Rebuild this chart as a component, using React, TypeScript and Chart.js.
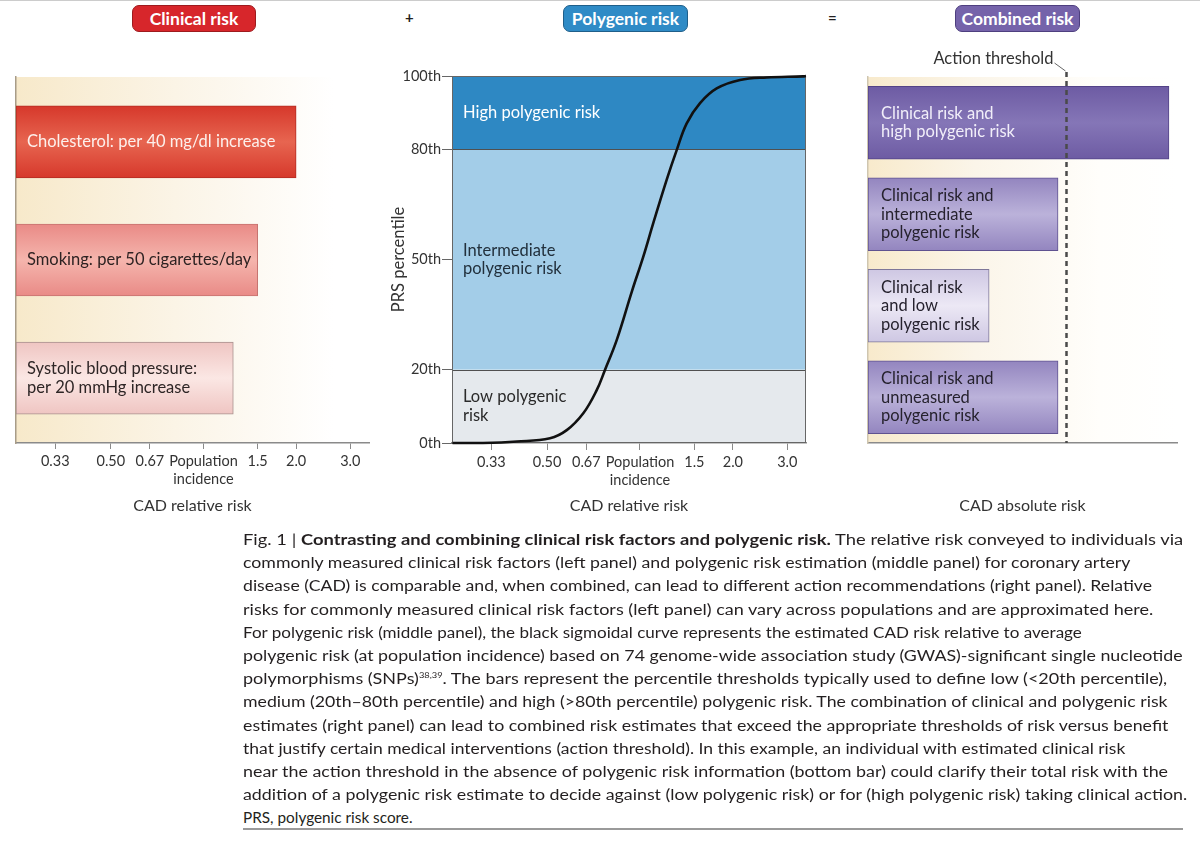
import React, { useEffect, useLayoutEffect, useRef } from 'react';
import { Chart, registerables } from 'chart.js';

Chart.register(...registerables);

const FONT = 'Lato, "Open Sans", "DejaVu Sans", sans-serif';

// ---------- shared relative-risk axis ----------
const RR_MIN = 0.246;
const RR_MAX = 3.45;
const RR_TICKS = [0.33, 0.5, 0.67, 1, 1.5, 2, 3];
const RR_TICK_LABELS: (string | string[])[] = ['0.33', '0.50', '0.67', ['Population', 'incidence'], '1.5', '2.0', '3.0'];

// ---------- left panel: clinical risk ----------
const CLINICAL_FACTORS = ['Cholesterol', 'Smoking', 'Systolic blood pressure'];
const CLINICAL_RR = [2.0, 1.5, 1.25];
const CLINICAL_LABELS = [
  ['Cholesterol: per 40 mg/dl increase'],
  ['Smoking: per 50 cigarettes/day'],
  ['Systolic blood pressure:', 'per 20 mmHg increase'],
];

// ---------- middle panel: polygenic risk ----------
const PRS_CURVE_RR = [0.247, 0.31, 0.399, 0.511, 0.579, 0.655, 0.724, 0.77, 0.841, 0.942, 1.025, 1.104, 1.22, 1.315, 1.417, 1.565, 1.772, 2.109, 2.573, 3.374, 3.45];
const PRS_CURVE_PCT = [0, 0, 0.4, 1.3, 3.5, 8.1, 14.4, 19.9, 28.1, 41.4, 50.8, 59.9, 71.7, 79.8, 87.1, 92.6, 96.6, 98.9, 99.6, 99.9, 100];
const PRS_BAND_EDGES = [0, 20, 80, 100];
const PRS_BAND_NAMES = [['Low polygenic', 'risk'], ['Intermediate', 'polygenic risk'], ['High polygenic risk']];
const PRS_TICKS = [0, 20, 50, 80, 100];
const PRS_TICK_LABELS = ['0th', '20th', '50th', '80th', '100th'];

// ---------- right panel: combined risk ----------
const COMBINED_CATS = ['High PRS', 'Intermediate PRS', 'Low PRS', 'Unmeasured PRS'];
const COMBINED_RISK = [9.74, 6.15, 3.92, 6.15];
const COMBINED_MAX = 10;
const ACTION_THRESHOLD = 6.41;
const COMBINED_LABELS = [
  ['Clinical risk and', 'high polygenic risk'],
  ['Clinical risk and', 'intermediate', 'polygenic risk'],
  ['Clinical risk', 'and low', 'polygenic risk'],
  ['Clinical risk and', 'unmeasured', 'polygenic risk'],
];

// ---------- caption ----------
const CAPTION_LINES: { parts: { t: string; b?: boolean; sup?: boolean }[]; end: number }[] = [
  { parts: [{ t: 'Fig. 1 | ' }, { t: 'Contrasting and combining clinical risk factors and polygenic risk.', b: true }, { t: ' The relative risk conveyed to individuals via' }], end: 1183 },
  { parts: [{ t: 'commonly measured clinical risk factors (left panel) and polygenic risk estimation (middle panel) for coronary artery' }], end: 1131 },
  { parts: [{ t: 'disease (CAD) is comparable and, when combined, can lead to different action recommendations (right panel). Relative' }], end: 1152 },
  { parts: [{ t: 'risks for commonly measured clinical risk factors (left panel) can vary across populations and are approximated here.' }], end: 1153 },
  { parts: [{ t: 'For polygenic risk (middle panel), the black sigmoidal curve represents the estimated CAD risk relative to average' }], end: 1082 },
  { parts: [{ t: 'polygenic risk (at population incidence) based on 74 genome-wide association study (GWAS)-significant single nucleotide' }], end: 1183 },
  { parts: [{ t: 'polymorphisms (SNPs)' }, { t: '38,39', sup: true }, { t: '. The bars represent the percentile thresholds typically used to define low (<20th percentile),' }], end: 1167 },
  { parts: [{ t: 'medium (20th–80th percentile) and high (>80th percentile) polygenic risk. The combination of clinical and polygenic risk' }], end: 1168 },
  { parts: [{ t: 'estimates (right panel) can lead to combined risk estimates that exceed the appropriate thresholds of risk versus benefit' }], end: 1168 },
  { parts: [{ t: 'that justify certain medical interventions (action threshold). In this example, an individual with estimated clinical risk' }], end: 1125 },
  { parts: [{ t: 'near the action threshold in the absence of polygenic risk information (bottom bar) could clarify their total risk with the' }], end: 1168 },
  { parts: [{ t: 'addition of a polygenic risk estimate to decide against (low polygenic risk) or for (high polygenic risk) taking clinical action.' }], end: 1187 },
  { parts: [{ t: 'PRS, polygenic risk score.' }], end: 413 },
];

// ---------- styles ----------
const CLIN_BAR_STYLE = [
  { edge: '#d6382b', mid: '#e76550', border: '#b32c22', text: '#fdf0ec' },
  { edge: '#e98a86', mid: '#f5b5ad', border: '#c6736f', text: '#2e2222' },
  { edge: '#efc5c2', mid: '#fbe7e4', border: '#a8908d', text: '#2e2626' },
];
const COMB_BAR_STYLE = [
  { edge: '#6d5ba3', mid: '#8576b7', border: '#534387', text: '#f1eef9' },
  { edge: '#9385bf', mid: '#bbb2da', border: '#5f5290', text: '#26222e' },
  { edge: '#cec7e3', mid: '#ece8f5', border: '#7e7799', text: '#26222e' },
  { edge: '#9385bf', mid: '#bbb2da', border: '#5f5290', text: '#26222e' },
];
const BAND_COLORS = ['#e5e9ed', '#a3cde8', '#2e88c3'];
const BAND_TEXT = ['#2a2a2a', '#22303c', '#ffffff'];
const LABEL_FONT = `16.5px ${FONT}`;

function gradientFor(ctx: any, thickness: number, st: { edge: string; mid: string }) {
  const chart = ctx.chart;
  if (!chart.chartArea || !chart.scales.y) return st.edge;
  const c = chart.scales.y.getPixelForValue(ctx.dataIndex);
  const g = chart.ctx.createLinearGradient(0, c - thickness / 2, 0, c + thickness / 2);
  g.addColorStop(0, st.edge);
  g.addColorStop(0.5, st.mid);
  g.addColorStop(1, st.edge);
  return g;
}

function drawLines(c: CanvasRenderingContext2D, lines: string[], x: number, cy: number, lh: number, color: string, font: string) {
  c.save();
  c.fillStyle = color;
  c.font = font;
  c.textAlign = 'left';
  c.textBaseline = 'middle';
  const start = cy - ((lines.length - 1) * lh) / 2;
  lines.forEach((l, i) => c.fillText(l, x, start + i * lh));
  c.restore();
}

const rrAxis = (tickLength: number) => ({
  type: 'logarithmic' as const,
  min: RR_MIN,
  max: RR_MAX,
  afterBuildTicks: (s: any) => {
    s.ticks = RR_TICKS.map((v) => ({ value: v }));
  },
  afterFit: (s: any) => {
    s.height = 87;
  },
  ticks: {
    autoSkip: false,
    maxRotation: 0,
    minRotation: 0,
    padding: 4,
    color: '#333',
    font: { family: FONT, size: 14.5, lineHeight: 1.2 },
    callback: (_v: any, i: number) => RR_TICK_LABELS[i],
  },
  grid: { display: true, drawOnChartArea: false, drawTicks: true, tickLength: tickLength, color: '#8a8a8a', lineWidth: 1 },
  border: { display: true, color: '#8a8a8a', width: 1.5 },
  title: { display: true, text: 'CAD relative risk', color: '#333', font: { family: FONT, size: 16, lineHeight: 1.2 }, padding: { top: 0, bottom: 15 } },
});

function useChart(ref: React.RefObject<HTMLCanvasElement>, make: (el: HTMLCanvasElement) => Chart) {
  useEffect(() => {
    if (!ref.current) return;
    const ch = make(ref.current);
    return () => ch.destroy();
  }, []);
}

function ClinicalChart() {
  const ref = useRef<HTMLCanvasElement>(null);
  useChart(ref, (el) =>
    new Chart(el, {
      type: 'bar',
      data: {
        datasets: [
          {
            label: 'Clinical risk',
            data: CLINICAL_RR.map((v, i) => ({ x: [RR_MIN, v], y: i, name: CLINICAL_FACTORS[i] })) as any,
            barThickness: 72,
            backgroundColor: (ctx: any) => gradientFor(ctx, 72, CLIN_BAR_STYLE[ctx.dataIndex]),
            borderColor: CLIN_BAR_STYLE.map((s) => s.border),
            borderWidth: 1,
            borderSkipped: false,
          },
        ],
      },
      options: {
        indexAxis: 'y',
        animation: false,
        responsive: true,
        maintainAspectRatio: false,
        layout: { padding: { top: 17, right: 16, left: 0, bottom: 0 } },
        plugins: { legend: { display: false }, tooltip: { enabled: false } },
        scales: {
          x: rrAxis(6) as any,
          y: {
            type: 'linear',
            reverse: true,
            offset: false,
            min: -0.55,
            max: CLINICAL_FACTORS.length - 0.45,
            afterFit: (s: any) => {
              s.width = 16;
            },
            ticks: { display: false },
            grid: { display: false, offset: false },
            border: { display: true, color: '#a89c88', width: 1.5 },
          },
        },
      },
      plugins: [
        {
          id: 'bg',
          beforeDraw(chart: any) {
            const { ctx, chartArea: a } = chart;
            const g = ctx.createLinearGradient(a.left, 0, a.right, 0);
            g.addColorStop(0, '#f7e9ca');
            g.addColorStop(0.45, '#fbf4e6');
            g.addColorStop(0.9, '#ffffff');
            ctx.save();
            ctx.fillStyle = g;
            ctx.fillRect(a.left, a.top, a.right - a.left, a.bottom - a.top);
            ctx.restore();
          },
          afterDatasetsDraw(chart: any) {
            const { ctx, chartArea: a } = chart;
            const y = chart.scales.y;
            CLINICAL_LABELS.forEach((lines, i) => {
              drawLines(ctx, lines, a.left + 11, y.getPixelForValue(i), 18.5, CLIN_BAR_STYLE[i].text, LABEL_FONT);
            });
          },
        },
      ],
    } as any)
  );
  return (
    <div style={{ position: 'absolute', left: 0, top: 60, width: 385, height: 470 }}>
      <canvas ref={ref} />
    </div>
  );
}

function PolygenicChart() {
  const ref = useRef<HTMLCanvasElement>(null);
  useChart(ref, (el) =>
    new Chart(el, {
      type: 'line',
      data: {
        datasets: [
          {
            label: 'CAD relative risk by PRS percentile',
            data: PRS_CURVE_RR.map((x, i) => ({ x, y: PRS_CURVE_PCT[i] })),
            borderColor: '#111111',
            borderWidth: 2.6,
            pointRadius: 0,
            tension: 0.4,
            fill: false,
            clip: false,
          },
        ],
      },
      options: {
        animation: false,
        responsive: true,
        maintainAspectRatio: false,
        layout: { padding: { top: 16, right: 14, left: 0, bottom: 0 } },
        plugins: { legend: { display: false }, tooltip: { enabled: false } },
        scales: {
          x: rrAxis(7) as any,
          y: {
            type: 'linear',
            min: 0,
            max: 100,
            afterBuildTicks: (s: any) => {
              s.ticks = PRS_TICKS.map((v) => ({ value: v }));
            },
            afterFit: (s: any) => {
              s.width = 72;
            },
            ticks: {
              padding: 1,
              color: '#333',
              font: { family: FONT, size: 14.5 },
              callback: (_v: any, i: number) => PRS_TICK_LABELS[i],
            },
            grid: { display: true, drawOnChartArea: false, drawTicks: true, tickLength: 10, color: '#666' },
            border: { display: true, color: '#555', width: 1 },
            title: { display: true, text: 'PRS percentile', color: '#333', font: { family: FONT, size: 16.5, lineHeight: 1.2 }, padding: { top: 9, bottom: 0 } },
          },
        },
      },
      plugins: [
        {
          id: 'bands',
          beforeDraw(chart: any) {
            const { ctx, chartArea: a } = chart;
            const y = chart.scales.y;
            ctx.save();
            for (let i = 0; i < PRS_BAND_EDGES.length - 1; i++) {
              const y0 = y.getPixelForValue(PRS_BAND_EDGES[i + 1]);
              const y1 = y.getPixelForValue(PRS_BAND_EDGES[i]);
              ctx.fillStyle = BAND_COLORS[i];
              ctx.fillRect(a.left, y0, a.right - a.left, y1 - y0);
            }
            ctx.restore();
          },
          beforeDatasetsDraw(chart: any) {
            const { ctx, chartArea: a } = chart;
            const y = chart.scales.y;
            ctx.save();
            ctx.strokeStyle = '#505050';
            ctx.lineWidth = 1;
            PRS_BAND_EDGES.slice(1, -1).forEach((v) => {
              const py = Math.round(y.getPixelForValue(v)) + 0.5;
              ctx.beginPath();
              ctx.moveTo(a.left, py);
              ctx.lineTo(a.right, py);
              ctx.stroke();
            });
            ctx.strokeStyle = '#666';
            ctx.strokeRect(a.left + 0.5, a.top + 0.5, a.right - a.left - 1, a.bottom - a.top - 1);
            for (let i = 0; i < PRS_BAND_NAMES.length; i++) {
              const mid = y.getPixelForValue((PRS_BAND_EDGES[i] + PRS_BAND_EDGES[i + 1]) / 2);
              drawLines(ctx, PRS_BAND_NAMES[i], a.left + 11, mid, 18.5, BAND_TEXT[i], LABEL_FONT);
            }
            ctx.restore();
          },
        },
      ],
    } as any)
  );
  return (
    <div style={{ position: 'absolute', left: 380, top: 60, width: 440, height: 470 }}>
      <canvas ref={ref} />
    </div>
  );
}

function CombinedChart() {
  const ref = useRef<HTMLCanvasElement>(null);
  useChart(ref, (el) =>
    new Chart(el, {
      type: 'bar',
      data: {
        labels: COMBINED_CATS,
        datasets: [
          {
            label: 'Combined risk',
            data: COMBINED_RISK,
            barThickness: 73,
            backgroundColor: (ctx: any) => gradientFor(ctx, 73, COMB_BAR_STYLE[ctx.dataIndex]),
            borderColor: COMB_BAR_STYLE.map((s) => s.border),
            borderWidth: 1,
            borderSkipped: false,
          },
        ],
      },
      options: {
        indexAxis: 'y',
        animation: false,
        responsive: true,
        maintainAspectRatio: false,
        layout: { padding: { top: 37, right: 23, left: 0, bottom: 0 } },
        plugins: { legend: { display: false }, tooltip: { enabled: false } },
        scales: {
          x: {
            type: 'linear',
            min: 0,
            max: COMBINED_MAX,
            afterFit: (s: any) => {
              s.height = 87;
            },
            ticks: { display: false },
            grid: { display: false },
            border: { display: true, color: '#8a8a8a', width: 1.5 },
            title: { display: true, text: 'CAD absolute risk', color: '#333', font: { family: FONT, size: 16, lineHeight: 1.2 }, padding: { top: 0, bottom: 15 } },
          },
          y: {
            type: 'category',
            afterFit: (s: any) => {
              s.width = 28;
            },
            ticks: { display: false },
            grid: { display: false },
            border: { display: true, color: '#cfc6b0', width: 1.5 },
          },
        },
      },
      plugins: [
        {
          id: 'bg',
          beforeDraw(chart: any) {
            const { ctx, chartArea: a } = chart;
            const g = ctx.createLinearGradient(a.left, 0, a.right, 0);
            g.addColorStop(0, '#f8eacc');
            g.addColorStop(0.35, '#fbf5e9');
            g.addColorStop(0.75, '#fffefb');
            g.addColorStop(1, '#ffffff');
            ctx.save();
            ctx.fillStyle = g;
            ctx.fillRect(a.left, a.top, a.right - a.left, a.bottom - a.top);
            ctx.restore();
          },
          afterDatasetsDraw(chart: any) {
            const { ctx, chartArea: a } = chart;
            const y = chart.scales.y;
            const x = chart.scales.x;
            COMBINED_LABELS.forEach((lines, i) => {
              drawLines(ctx, lines, a.left + 13, y.getPixelForValue(i), 18.5, COMB_BAR_STYLE[i].text, LABEL_FONT);
            });
            const tx = Math.round(x.getPixelForValue(ACTION_THRESHOLD)) + 0.5;
            ctx.save();
            ctx.strokeStyle = '#4a4a4a';
            ctx.lineWidth = 2.5;
            ctx.setLineDash([5, 4]);
            ctx.beginPath();
            ctx.moveTo(tx, a.top - 5);
            ctx.lineTo(tx, a.bottom);
            ctx.stroke();
            ctx.setLineDash([]);
            ctx.lineWidth = 1;
            ctx.strokeStyle = '#666';
            ctx.beginPath();
            ctx.moveTo(tx - 12, a.top - 14);
            ctx.lineTo(tx - 1, a.top - 6);
            ctx.stroke();
            ctx.fillStyle = '#333';
            ctx.font = `16.5px ${FONT}`;
            ctx.textAlign = 'right';
            ctx.textBaseline = 'middle';
            ctx.fillText('Action threshold', tx - 13, a.top - 18);
            ctx.restore();
          },
        },
      ],
    } as any)
  );
  return (
    <div style={{ position: 'absolute', left: 840, top: 40, width: 360, height: 490 }}>
      <canvas ref={ref} />
    </div>
  );
}

function Pill({ left, width, bg, border, text }: { left: number; width: number; bg: string; border: string; text: string }) {
  return (
    <div
      style={{
        position: 'absolute',
        left,
        top: 5,
        width,
        height: 27,
        boxSizing: 'border-box',
        background: bg,
        border: `1px solid ${border}`,
        borderRadius: 7,
        color: '#fff',
        fontFamily: FONT,
        fontWeight: 700,
        fontSize: 17.5,
        display: 'flex',
        alignItems: 'center',
        justifyContent: 'center',
      }}
    >
      {text}
    </div>
  );
}

function FitLine({ top, end, children }: { top: number; end: number; children: React.ReactNode }) {
  const ref = useRef<HTMLSpanElement>(null);
  useLayoutEffect(() => {
    const fit = () => {
      const el = ref.current;
      if (!el) return;
      const w = el.offsetWidth;
      if (w > 0) el.style.transform = `scaleX(${(end - 243) / w})`;
    };
    fit();
    if ((document as any).fonts && (document as any).fonts.ready) (document as any).fonts.ready.then(fit);
  }, []);
  return (
    <div style={{ position: 'absolute', left: 243, top, whiteSpace: 'nowrap', lineHeight: '20px', height: 20 }}>
      <span ref={ref} style={{ display: 'inline-block', transformOrigin: '0 0' }}>
        {children}
      </span>
    </div>
  );
}

export default function App() {
  return (
    <div
      style={{
        position: 'absolute',
        left: 0,
        top: 0,
        width: 1200,
        height: 847,
        background: '#ffffff',
        overflow: 'hidden',
        fontFamily: FONT,
        color: '#231f20',
      }}
    >
      <div style={{ position: 'absolute', left: 0, top: 0, width: 1200, height: 1, background: '#cccccc' }} />
      <Pill left={132} width={124} bg="#d7262b" border="#9e1b1e" text="Clinical risk" />
      <div style={{ position: 'absolute', left: 405, top: 8, fontSize: 15, fontWeight: 700 }}>+</div>
      <Pill left={563} width={125} bg="#2f8bc6" border="#1f5f8a" text="Polygenic risk" />
      <div style={{ position: 'absolute', left: 828, top: 8, fontSize: 15, fontWeight: 700 }}>=</div>
      <Pill left={955} width={125} bg="#7563aa" border="#4e3f7f" text="Combined risk" />

      <ClinicalChart />
      <PolygenicChart />
      <CombinedChart />

      <div style={{ fontSize: 15.5 }}>
        {CAPTION_LINES.map((ln, i) => (
          <FitLine key={i} top={529 + i * 23.2} end={ln.end}>
            {ln.parts.map((p, j) =>
              p.sup ? (
                <sup key={j} style={{ fontSize: 8, verticalAlign: 'super', lineHeight: 0 }}>
                  {p.t}
                </sup>
              ) : p.b ? (
                <b key={j}>{p.t}</b>
              ) : (
                <span key={j}>{p.t}</span>
              )
            )}
          </FitLine>
        ))}
      </div>
      <div style={{ position: 'absolute', left: 243, top: 828, width: 940, height: 2, background: '#9a9a9a' }} />
    </div>
  );
}
